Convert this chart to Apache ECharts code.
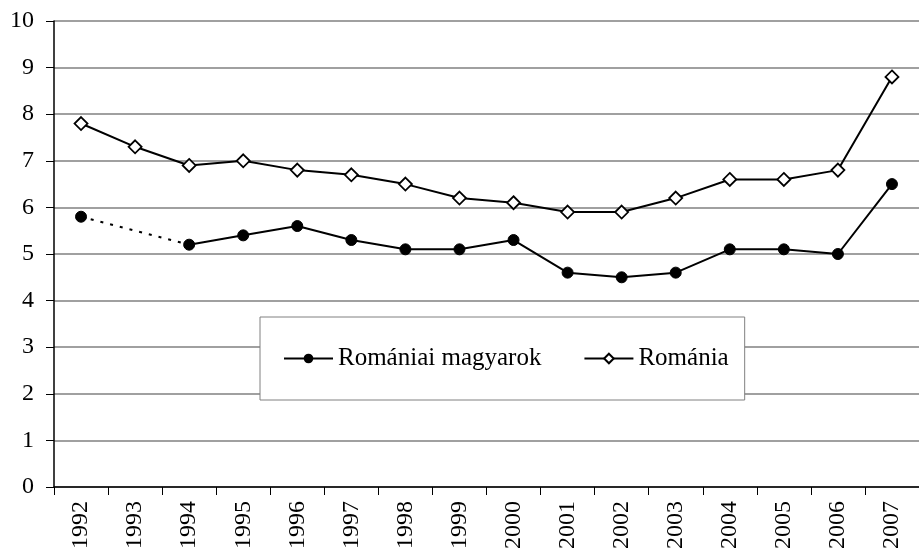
<!DOCTYPE html>
<html><head><meta charset="utf-8">
<script src="https://cdn.jsdelivr.net/npm/echarts@6/dist/echarts.min.js"></script>
<style>html,body{margin:0;padding:0;background:#fff}#c{width:919px;height:554px}</style>
</head><body><div id="c"></div>
<script>
const years = ['1992','1993','1994','1995','1996','1997','1998','1999','2000','2001','2002','2003','2004','2005','2006','2007'];
const magyarok = [5.8, null, 5.2, 5.4, 5.6, 5.3, 5.1, 5.1, 5.3, 4.6, 4.5, 4.6, 5.1, 5.1, 5.0, 6.5];
const romania = [7.8, 7.3, 6.9, 7.0, 6.8, 6.7, 6.5, 6.2, 6.1, 5.9, 5.9, 6.2, 6.6, 6.6, 6.8, 8.8];
const magyarokGap = [5.8, null, 5.2, null, null, null, null, null, null, null, null, null, null, null, null, null];
const yTicks = [0,1,2,3,4,5,6,7,8,9,10];

const font = '"Liberation Serif", "Times New Roman", serif';
const chart = echarts.init(document.getElementById('c'), null, {renderer:'canvas'});
chart.setOption({
  animation: false,
  backgroundColor: '#fff',
  textStyle: {fontFamily: font, color: '#000'},
  grid: {left: 54, top: 21, bottom: 67, right: -13, containLabel: false},
  legend: {
    left: 260, top: 317,
    padding: [29, 16, 29, 23],
    borderColor: '#808080', borderWidth: 1,
    backgroundColor: '#fff',
    itemWidth: 49, itemHeight: 12, itemGap: 42,
    textStyle: {fontFamily: font, fontSize: 25, color: '#000'},
    data: ['Romániai magyarok', 'Románia']
  },
  xAxis: {
    type: 'category', data: years, boundaryGap: true,
    axisLine: {lineStyle: {color: '#000', width: 1.5}},
    axisTick: {show: true, length: 8, lineStyle: {color: '#000'}},
    axisLabel: {rotate: 90, fontSize: 24, color: '#000', fontFamily: font, margin: 14}
  },
  yAxis: {
    type: 'value', min: yTicks[0], max: yTicks[yTicks.length-1], interval: 1,
    axisLine: {show: true, lineStyle: {color: '#000', width: 1.5}},
    axisTick: {show: true, length: 8, lineStyle: {color: '#000'}},
    axisLabel: {fontSize: 24, color: '#000', fontFamily: font, margin: 20},
    splitLine: {show: true, lineStyle: {color: '#808080', width: 1.5}}
  },
  series: [
    {
      name: 'Romániai magyarok', type: 'line', data: magyarok,
      connectNulls: false,
      symbol: 'circle', symbolSize: 11,
      lineStyle: {color: '#000', width: 2},
      itemStyle: {color: '#000', borderColor: '#000'},
      z: 3
    },
    {
      name: 'gap', type: 'line', data: magyarokGap,
      connectNulls: true, symbol: 'none',
      lineStyle: {color: '#000', width: 2, type: [3, 7]},
      z: 2
    },
    {
      name: 'Románia', type: 'line', data: romania,
      symbol: 'diamond', symbolSize: 13,
      lineStyle: {color: '#000', width: 2},
      itemStyle: {color: '#fff', borderColor: '#000', borderWidth: 1.8},
      z: 3
    }
  ]
});
</script></body></html>
